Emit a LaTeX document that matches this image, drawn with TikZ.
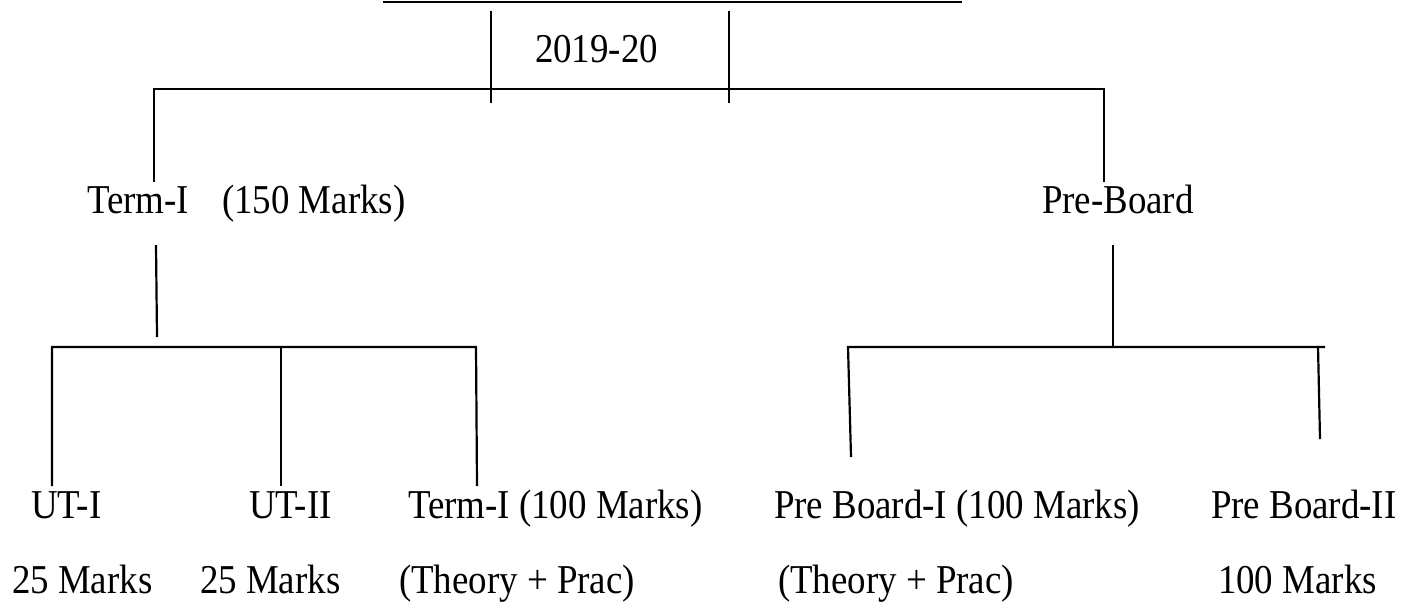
\documentclass[tikz,border=0pt]{standalone}
\usepackage{fontspec}
\setmainfont{Liberation Serif}[FakeStretch=0.9]
\begin{document}
\begin{tikzpicture}[x=0.5pt,y=-0.5pt,
  lbl/.style={anchor=base west,inner sep=0pt,outer sep=0pt,font=\fontsize{20.5}{24}\selectfont},
  ln/.style={line width=1.1pt,line cap=butt}]
\useasboundingbox (0,0) rectangle (1416,607);
% texts
\node[lbl] (year) at (535,62) {2019-20};
\node[lbl] (term) at (87,213) {Term-I\hspace{0.81em}(150 Marks)};
\node[lbl] (pre) at (1042,213) {Pre-Board};
\node[lbl] (ut1) at (31,518) {UT-I};
\node[lbl] (ut2) at (249,518) {UT-II};
\node[lbl] (t100) at (408,518) {Term-I (100 Marks)};
\node[lbl] (pb1) at (774,518) {Pre Board-I (100 Marks)};
\node[lbl] (pb2) at (1211,518) {Pre Board-II};
\node[lbl] (m1) at (12,593) {25 Marks};
\node[lbl] (m2) at (200,593) {25 Marks};
\node[lbl] (tp1) at (399,593) {(Theory + Prac)};
\node[lbl] (tp2) at (778,593) {(Theory + Prac)};
\node[lbl] (m100) at (1218,593) {100 Marks};
% coordinates
\coordinate (topL) at (383,2);
\coordinate (topR) at (962,2);
\coordinate (vLt) at (491,11);
\coordinate (vLb) at (491,103);
\coordinate (vRt) at (729,11);
\coordinate (vRb) at (729,103);
\coordinate (hL) at (154,89);
\coordinate (hR) at (1104,89);
\coordinate (termT) at (154,182);
\coordinate (preT) at (1104,182);
\coordinate (termB) at (156,245);
\coordinate (termJ) at (157,337);
\coordinate (preB) at (1113,245);
\coordinate (preJ) at (1113,347);
\coordinate (blL) at (52,347);
\coordinate (blR) at (476,347);
\coordinate (blM) at (281,347);
\coordinate (ut1T) at (52,486);
\coordinate (ut2T) at (281,486);
\coordinate (t100T) at (477,486);
\coordinate (brL) at (848,347);
\coordinate (brR) at (1325,347);
\coordinate (brV) at (1318,347);
\coordinate (pb1T) at (851,457);
\coordinate (pb2T) at (1320,439);
% lines
\draw[ln] (topL) -- (topR);
\draw[ln] (vLt) -- (vLb);
\draw[ln] (vRt) -- (vRb);
\draw[ln] (termT) -- (hL) -- (hR) -- (preT);
\draw[ln] (termB) -- (termJ);
\draw[ln] (preB) -- (preJ);
\draw[ln] (ut1T) -- (blL) -- (blR) -- (t100T);
\draw[ln] (blM) -- (ut2T);
\draw[ln] (pb1T) -- (brL) -- (brR);
\draw[ln] (brV) -- (pb2T);
\end{tikzpicture}
\end{document}
